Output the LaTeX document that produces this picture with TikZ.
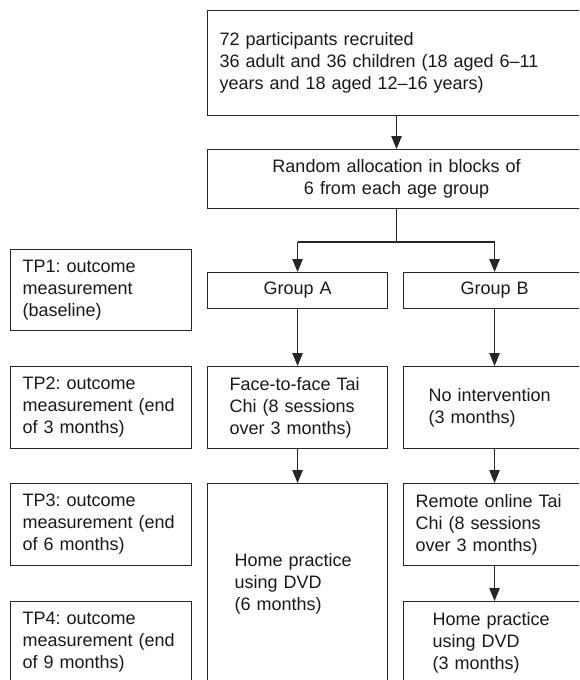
\documentclass[tikz,border=0pt]{standalone}
\usepackage{fontspec}
\setmainfont{Liberation Sans}
\usetikzlibrary{arrows.meta}
\begin{document}
\frenchspacing
\begin{tikzpicture}[x=1pt,y=-1pt,
  box/.style={draw=black!85, line width=1.1pt, anchor=north west, inner ysep=0pt,
    font=\fontsize{18}{22}\selectfont, text=black!90},
  lbox/.style={box, align=left},
  cbox/.style={box, align=center},
  arr/.style={draw=black!85, line width=1.1pt, -{Triangle[length=13pt,width=10.5pt]}},
  ln/.style={draw=black!85, line width=1.1pt}]
\useasboundingbox (0,0) rectangle (579,680);
\clip (0,0) rectangle (579,680);
% left column
\node[lbox, minimum width=181pt, minimum height=81pt, text width=156pt, inner xsep=12.5pt] (tp1) at (9.5,249) {TP1: outcome\\measurement\\(baseline)};
\node[lbox, minimum width=181pt, minimum height=82pt, text width=156pt, inner xsep=12.5pt] (tp2) at (9.5,366) {TP2: outcome\\measurement (end\\of 3 months)};
\node[lbox, minimum width=181pt, minimum height=82pt, text width=156pt, inner xsep=12.5pt] (tp3) at (9.5,483) {TP3: outcome\\measurement (end\\of 6 months)};
\node[lbox, minimum width=181pt, minimum height=82pt, text width=156pt, inner xsep=12.5pt] (tp4) at (9.5,601) {TP4: outcome\\measurement (end\\of 9 months)};
% top
\node[lbox, minimum width=378pt, minimum height=105pt, text width=354pt, inner xsep=12pt] (rec) at (207,10) {72 participants recruited\\36 adult and 36 children (18 aged 6--11\\years and 18 aged 12--16 years)};
\node[cbox, minimum width=378pt, minimum height=59pt, text width=354pt, inner xsep=12pt] (rand) at (207,149) {Random allocation in blocks of\\6 from each age group};
% groups
\node[cbox, minimum width=180pt, minimum height=36pt, text width=156pt, inner xsep=12pt] (ga) at (207,272) {Group A};
\node[cbox, minimum width=182pt, minimum height=36pt, text width=158pt, inner xsep=12pt] (gb) at (403,272) {Group B};
% group A path
\node[lbox, minimum width=180pt, minimum height=82pt, text width=136pt, inner xsep=22pt] (face) at (207,366) {Face-to-face Tai\\Chi (8 sessions\\over 3 months)};
\node[lbox, minimum width=180pt, minimum height=200pt, text width=126pt, inner xsep=27pt] (homea) at (207,483) {Home practice\\using DVD\\(6 months)};
% group B path
\node[lbox, minimum width=182pt, minimum height=82pt, text width=132pt, inner xsep=25pt] (noint) at (403,366) {No intervention\\(3 months)};
\node[lbox, minimum width=182pt, minimum height=82pt, text width=158pt, inner xsep=12pt] (remote) at (403,483) {Remote online Tai\\Chi (8 sessions\\over 3 months)};
\node[lbox, minimum width=182pt, minimum height=82pt, text width=124pt, inner xsep=29pt] (homeb) at (403,601) {Home practice\\using DVD\\(3 months)};
% connectors
\draw[arr] (rec.south) -- (rand.north);
\coordinate (br) at (rand.south |- 0,242);
\coordinate (bl) at (ga.north |- 0,242);
\coordinate (brr) at (gb.north |- 0,242);
\draw[ln] (rand.south) -- (br);
\draw[ln] (bl) -- (brr);
\draw[arr] (bl) -- (ga.north);
\draw[arr] (brr) -- (gb.north);
\draw[arr] (ga.south) -- (face.north);
\draw[arr] (face.south) -- (homea.north);
\draw[arr] (gb.south) -- (noint.north);
\draw[arr] (noint.south) -- (remote.north);
\draw[arr] (remote.south) -- (homeb.north);
\end{tikzpicture}
\end{document}
